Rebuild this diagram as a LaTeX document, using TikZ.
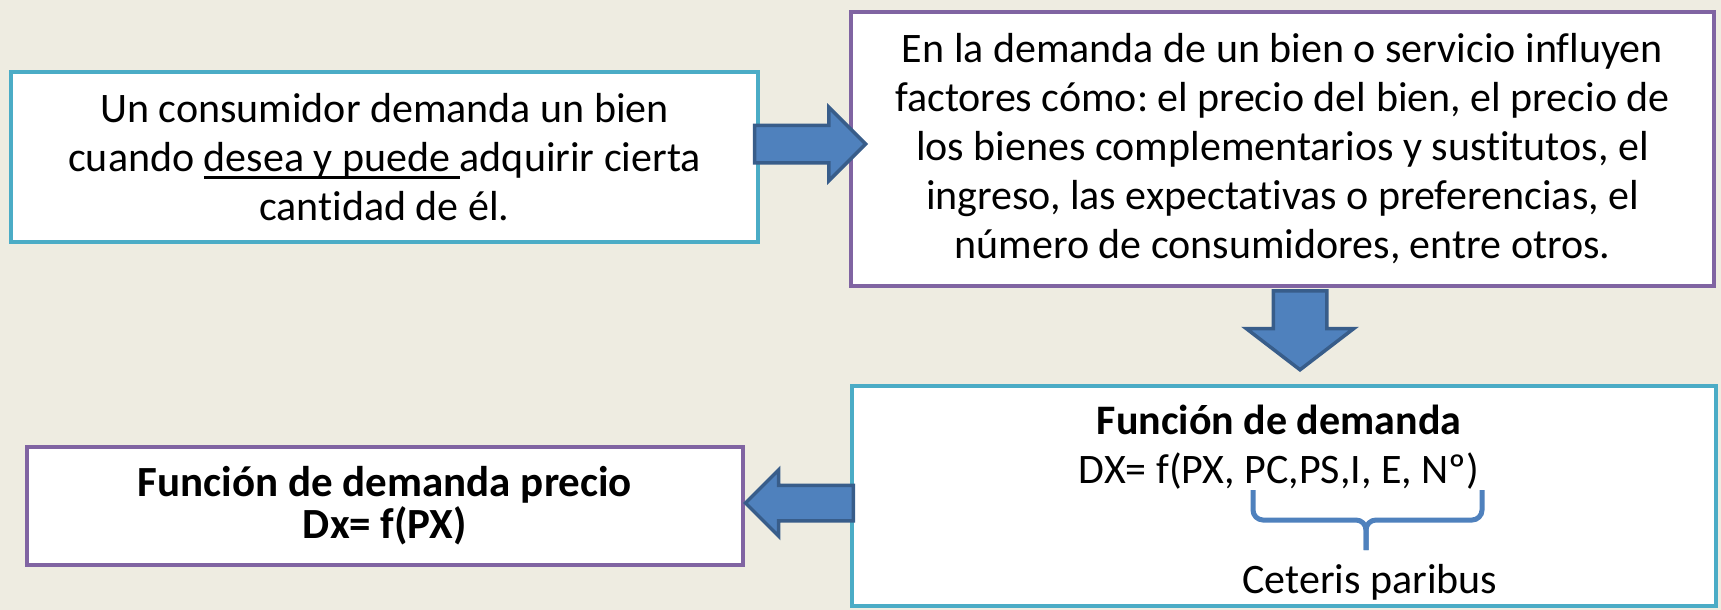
\documentclass[tikz,border=0pt]{standalone}
\usepackage{fontspec}
\setmainfont{Carlito}[Ligatures=NoCommon]
\usetikzlibrary{shapes.arrows}

\definecolor{fondo}{HTML}{EEECE1}
\definecolor{cian}{HTML}{4BACC6}
\definecolor{morado}{HTML}{8064A2}
\definecolor{azulflecha}{HTML}{4F81BD}
\definecolor{bordeflecha}{HTML}{385D8A}

\newsavebox\cajita
\newcommand{\subrayar}[1]{\sbox\cajita{#1}\rlap{\rule[-8pt]{\wd\cajita}{3pt}}\usebox\cajita}

\tikzset{
  texto/.style={align=center, font=\fontsize{42}{49}\selectfont},
  caja/.style={texto, draw, line width=4.5pt, fill=white, inner sep=0pt},
  flechagorda/.style={single arrow, draw=bordeflecha, fill=azulflecha, line width=3.5pt,
    single arrow head indent=0pt},
}

\begin{document}
\frenchspacing
\begin{tikzpicture}[x=1pt, y=-1pt]
    \fill[fondo] (0,0) rectangle (1721,610);
    \useasboundingbox (0,0) rectangle (1721,610);

    % --- Caja 1 (consumidor) ---
    \node[caja, draw=cian, minimum width=747pt, minimum height=170pt] (consumidor) at (384.5,157)
        {Un consumidor demanda un bien\\ cuando \subrayar{desea y puede }adquirir cierta\\ cantidad de él.};

    % --- Caja 2 (factores) ---
    \node[caja, draw=morado, minimum width=863pt, minimum height=274pt] (factores) at (1282.5,149)
        {En la demanda de un bien o servicio influyen\\ factores cómo: el precio del bien, el precio de\\
         los bienes complementarios y sustitutos, el\\ ingreso, las expectativas o preferencias, el\\
         número de consumidores, entre otros.};

    % --- Caja 3 (funcion de demanda) ---
    \node[caja, draw=cian, minimum width=864pt, minimum height=220pt] (funcion) at (1284,496) {};
    \node[texto] (formula) at (1279,447)
        {\textbf{Función de demanda}\\ DX= f(PX, PC,PS,I, E, Nº)};
    % llave
    \coordinate (llave) at (1366,520);
    \draw[azulflecha, line width=5pt, rounded corners=10pt] (1253,490) |- (llave) -- (1366,550);
    \draw[azulflecha, line width=5pt, rounded corners=10pt] (1482,490) |- (llave) -- (1366,550);
    \node[texto, anchor=base] (ceteris) at (1370,593) {Ceteris paribus};

    % --- Caja 4 (demanda precio) ---
    \node[caja, draw=morado, minimum width=716pt, minimum height=118pt, font=\fontsize{43}{42}\selectfont\bfseries]
        (precio) at (385,506) {Función de demanda precio\\ Dx= f(PX)};

    % --- Flechas ---
    \node[flechagorda, anchor=tip, inner xsep=0pt, inner ysep=17pt, minimum height=111pt,
        single arrow head extend=18pt] (f1) at (868,144) {};
    \node[flechagorda, anchor=tip, shape border rotate=270, inner ysep=0pt, inner xsep=25pt, minimum height=79pt,
        single arrow head extend=27pt, single arrow tip angle=105] (f2) at (1300,372) {};
    \node[flechagorda, anchor=tip, shape border rotate=180, inner xsep=0pt, inner ysep=16pt, minimum height=108pt,
        single arrow head extend=15.5pt] (f3) at (743,503) {};
\end{tikzpicture}
\end{document}
